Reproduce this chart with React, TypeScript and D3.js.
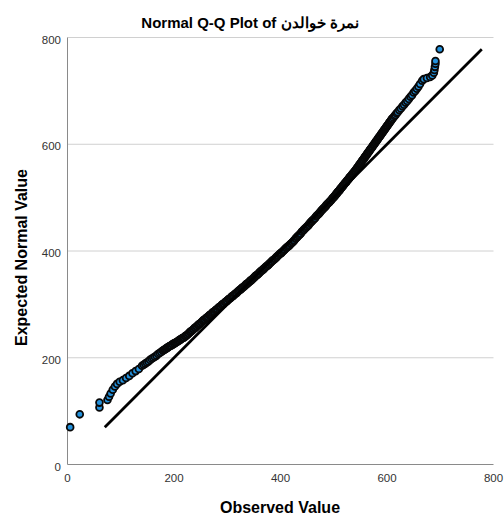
import React from "react";
import * as d3 from "d3";

const chartTitle = "Normal Q-Q Plot of نمرة خوالدن";
const xAxisTitle = "Observed Value";
const yAxisTitle = "Expected Normal Value";
const xTicks = [0, 200, 400, 600, 800];
const yTicks = [0, 200, 400, 600, 800];
const gridTicks = [200, 400, 600, 800];

const observedValues = [
  5, 23, 60, 60, 75, 78, 81, 85, 89, 93, 98, 104, 110, 116, 122, 128, 134,
  140, 143, 146, 149, 152, 155, 158, 161, 164, 167, 170, 173, 176, 179,
  180, 182, 183, 185, 186, 188, 189, 191, 192, 194, 195, 197, 198, 200, 201, 203, 204, 206, 207, 209, 210, 212, 213, 215, 216, 218, 219,
  221, 222, 224, 225, 227, 228, 230, 231, 233, 234, 236, 237, 239, 240, 242, 243, 245, 246, 248, 249, 251, 252, 254, 255, 257, 258,
  260, 261, 263, 264, 266, 267, 269, 270, 272, 273, 275, 276, 278, 279, 281, 282, 284, 285, 287, 288, 290, 291, 293, 294, 296, 297, 299,
  300, 302, 303, 305, 306, 308, 309, 311, 312, 314, 315, 317, 318, 320, 321, 323, 324, 326, 327, 329, 330, 332, 333, 335, 336, 338, 339,
  341, 342, 344, 345, 347, 348, 350, 351, 353, 354, 356, 357, 359, 360, 362, 363, 365, 366, 368, 369, 371, 372, 374, 375, 377, 378,
  380, 381, 383, 384, 386, 387, 389, 390, 392, 393, 395, 396, 398, 399, 401, 402, 404, 405, 407, 408, 410, 411, 413, 414, 416, 417, 419,
  420, 422, 423, 425, 426, 428, 429, 431, 432, 434, 435, 437, 438, 440, 441, 443, 444, 446, 447, 449, 450, 452, 453, 455, 456, 458, 459,
  461, 462, 464, 465, 467, 468, 470, 471, 473, 474, 476, 477, 479, 480, 482, 483, 485, 486, 488, 489, 491, 492, 494, 495, 497, 498,
  500, 501, 502, 503, 504, 505, 506, 507, 508, 509, 510, 511, 512, 513, 514, 515, 516, 517, 518, 519,
  520, 521, 522, 523, 524, 525, 526, 527, 528, 529, 530, 531, 532, 533, 534, 535, 536, 537, 538, 539,
  540, 541, 542, 543, 544, 545, 546, 547, 548, 549, 550, 551, 552, 553, 554, 555, 556, 557, 558, 559,
  560, 561, 562, 563, 564, 565, 566, 567, 568, 569, 570, 571, 572, 573, 574, 575, 576, 577, 578, 579,
  580, 581, 582, 583, 584, 585, 586, 587, 588, 589, 590, 591, 592, 593, 594, 595, 596, 597, 598, 599,
  600, 601, 602, 603, 604, 605, 606, 607, 608, 609,
  610, 612, 614, 616, 618, 620, 623, 626, 629, 632, 635, 638, 641, 644, 647, 650, 653, 656, 659, 662, 666,
  669, 675, 681, 685, 688, 689, 690, 691, 691, 699,
];

const expectedValues = [
  70, 94, 107, 116, 121, 127, 133, 140, 146, 151, 155, 158, 162, 166, 171, 175, 179,
  185, 187, 189, 191, 193, 196, 198, 200, 202, 204, 207, 209, 211, 213,
  214, 215, 216, 217, 218, 219, 220, 221, 222, 223, 223, 225, 225, 227, 227, 228, 229, 230, 231, 232, 233, 234, 235, 236, 237, 238, 238,
  240, 241, 242, 243, 245, 246, 248, 249, 250, 251, 253, 254, 256, 256, 258, 259, 261, 262, 263, 264, 266, 267, 269, 270, 271, 272,
  274, 275, 276, 277, 279, 280, 281, 282, 284, 285, 286, 287, 289, 290, 291, 292, 294, 295, 296, 297, 299, 300, 301, 302, 304, 305, 306,
  307, 309, 310, 311, 312, 314, 315, 316, 317, 319, 320, 321, 322, 324, 325, 327, 327, 329, 330, 332, 332, 334, 335, 337, 338, 339, 340,
  342, 343, 345, 345, 347, 348, 350, 351, 353, 354, 355, 356, 358, 359, 361, 362, 364, 364, 366, 367, 369, 370, 372, 372, 374, 375,
  377, 378, 380, 381, 383, 383, 385, 386, 388, 389, 391, 392, 394, 395, 396, 397, 399, 400, 402, 403, 405, 406, 408, 408, 410, 411, 413,
  414, 416, 417, 419, 420, 423, 424, 426, 427, 429, 430, 432, 433, 436, 437, 439, 440, 442, 443, 445, 446, 448, 449, 452, 453, 455, 456,
  458, 459, 461, 462, 465, 466, 468, 469, 471, 472, 475, 476, 478, 479, 481, 482, 484, 486, 488, 489, 491, 492, 494, 495, 498, 499,
  501, 502, 503, 505, 506, 507, 508, 510, 511, 512, 513, 514, 516, 517, 518, 519, 521, 522, 523, 524,
  526, 527, 528, 529, 530, 532, 533, 534, 535, 537, 538, 539, 540, 541, 543, 544, 545, 546, 548, 549,
  550, 551, 553, 554, 556, 557, 558, 560, 561, 563, 564, 565, 567, 568, 570, 571, 572, 574, 575, 577,
  578, 579, 581, 582, 584, 585, 586, 588, 589, 591, 592, 593, 595, 596, 598, 599, 600, 602, 603, 605,
  606, 607, 609, 610, 612, 613, 614, 616, 617, 619, 620, 621, 623, 624, 626, 627, 628, 630, 631, 633,
  634, 635, 637, 638, 640, 641, 642, 644, 645, 647,
  648, 650, 653, 655, 658, 660, 664, 667, 671, 674, 678, 681, 685, 689, 692, 697, 700, 704, 708, 713, 719,
  722, 724, 726, 729, 734, 739, 745, 751, 756, 778,
];

const W = 504;
const H = 517;
const FONT = "'Liberation Sans', Arial, sans-serif";

export default function App() {
  const x = d3.scaleLinear().domain([0, 800]).range([67.5, 493.5]);
  const y = d3.scaleLinear().domain([0, 800]).range([464.5, 37.5]);
  const n = Math.min(observedValues.length, expectedValues.length);
  const pts = d3.range(n).map((i) => [observedValues[i], expectedValues[i]]);
  const [lo, hi] = d3.extent(expectedValues) as [number, number];
  const line = d3.line<number[]>().x((d) => x(d[0])).y((d) => y(d[1]));

  return (
    <svg
      width={W}
      height={H}
      style={{ position: "absolute", left: 0, top: 0, background: "#fff" }}
      fontFamily={FONT}
    >
      <rect x={0} y={0} width={W} height={H} fill="#fff" />
      {gridTicks.map((t) => (
        <line key={"g" + t} x1={x(0)} x2={x(800)} y1={y(t)} y2={y(t)} stroke="#d0d0d0" strokeWidth={1} />
      ))}
      <line x1={x(0)} x2={x(800)} y1={y(0)} y2={y(0)} stroke="#8a8a8a" strokeWidth={1} />
      <line x1={x(0)} x2={x(0)} y1={y(0)} y2={y(800)} stroke="#8a8a8a" strokeWidth={1} />
      {xTicks.map((t) => (
        <text key={"x" + t} x={x(t)} y={y(0) + 17.5} textAnchor="middle" fontSize={11.5} fill="#333">
          {t}
        </text>
      ))}
      {yTicks.map((t) => (
        <text key={"y" + t} x={61} y={y(t) + 6} textAnchor="end" fontSize={11.5} fill="#333">
          {t}
        </text>
      ))}
      {pts.map((p, i) => (
        <circle key={i} cx={x(p[0])} cy={y(p[1])} r={3.4} fill="#2391dc" stroke="#080808" strokeWidth={1.8} />
      ))}
      <path d={line([[lo, lo], [hi, hi]]) || ""} stroke="#000" strokeWidth={2.8} fill="none" />
      <text x={250} y={28} textAnchor="middle" fontSize={15} fontWeight="bold" fill="#000">
        {chartTitle}
      </text>
      <text x={280} y={513} textAnchor="middle" fontSize={16} fontWeight="bold" fill="#000">
        {xAxisTitle}
      </text>
      <text
        transform={`translate(26.5,257.5) rotate(-90)`}
        textAnchor="middle"
        fontSize={16}
        fontWeight="bold"
        fill="#000"
      >
        {yAxisTitle}
      </text>
    </svg>
  );
}
